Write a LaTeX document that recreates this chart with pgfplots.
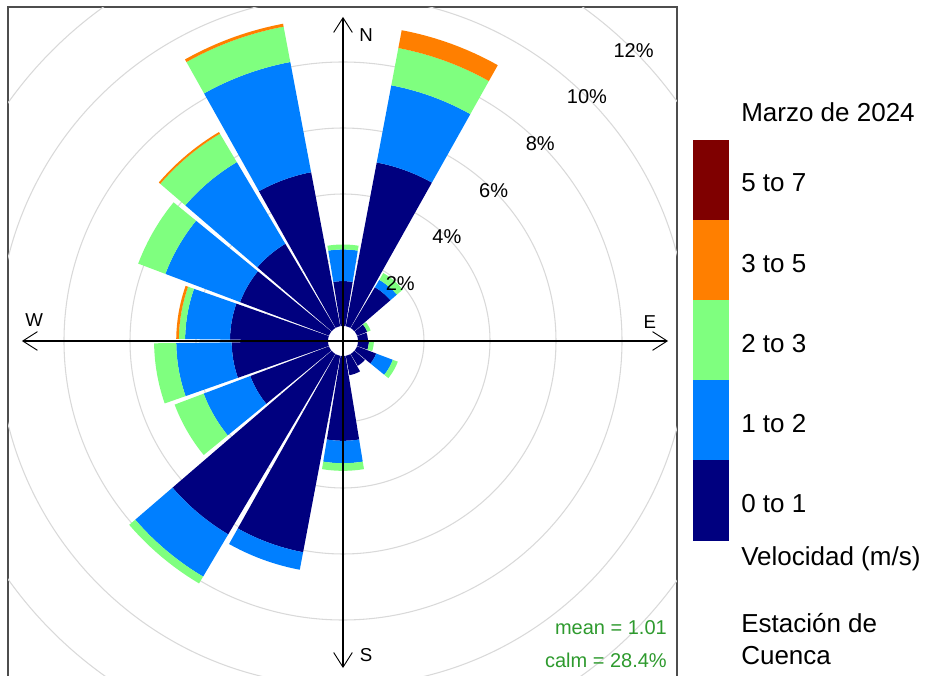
\documentclass[border=0pt]{standalone}
\usepackage{pgfplots}
\pgfplotsset{compat=1.18}
\usepackage{pgfplotstable}
\usepgfplotslibrary{polar}
\usetikzlibrary{arrows.meta}
\usepackage{fontspec}
\setmainfont{Liberation Sans}

\definecolor{ws1}{HTML}{00007F}
\definecolor{ws2}{HTML}{007FFF}
\definecolor{ws3}{HTML}{7FFF7F}
\definecolor{ws4}{HTML}{FF7F00}
\definecolor{ws5}{HTML}{7F0000}
\definecolor{gridgray}{HTML}{D9D9D9}
\definecolor{statgreen}{HTML}{2E9A2E}
\definecolor{framegray}{HTML}{4D4D4D}

% cumulative frequency (%) at the outer edge of each speed band, by direction (deg from N)
% c1: 0-1, c2: 1-2, c3: 2-3, c4: 3-5, c5: 5-7 m/s
\pgfplotstableread{
dir  c1    c2    c3    c4    c5
0    1.36  2.32  2.47  2.47  2.47
20   5.05  7.43  8.58  9.13  9.13
40   1.44  1.70  1.94  1.94  1.94
60   0.33  0.33  0.44  0.44  0.44
80   0.30  0.30  0.30  0.30  0.30
100  0.33  0.33  0.48  0.48  0.48
120  0.62  1.16  1.32  1.32  1.32
140  0.42  0.42  0.42  0.42  0.42
160  0.60  0.60  0.60  0.60  0.60
180  2.57  3.25  3.48  3.48  3.48
200  6.06  6.60  6.60  6.60  6.60
220  6.36  7.85  8.09  8.09  8.09
240  2.55  4.06  5.00  5.00  5.00
260  2.92  4.60  5.27  5.27  5.27
280  2.97  4.33  4.52  4.60  4.60
300  2.88  5.30  6.18  6.18  6.18
320  2.97  5.85  6.85  6.91  6.91
340  4.75  8.15  9.24  9.33  9.33
}\windtab

\newcommand\roff{0.4545}
\newcommand\halfw{9.3}

\newcommand{\wrsector}[4]{% dir, inner, outer, colour
  \pgfmathtruncatemacro\wrok{(#3-#2)>0.001}%
  \ifnum\wrok=1
    \pgfmathsetmacro\wrI{\roff+#2}%
    \pgfmathsetmacro\wrO{\roff+#3}%
    \gdef\wrpts{}%
    \foreach \k in {-6,...,6}{%
      \pgfmathsetmacro\wrang{90-#1+\k*\halfw/6}%
      \xdef\wrpts{\wrpts (\wrang,\wrO)}%
    }%
    \foreach \k in {6,5,...,-6}{%
      \pgfmathsetmacro\wrang{90-#1+\k*\halfw/6}%
      \xdef\wrpts{\wrpts (\wrang,\wrI)}%
    }%
    \edef\wrdoplot{\noexpand\addplot[fill=#4, draw=none, data cs=polar, forget plot] coordinates {\wrpts};}%
    \wrdoplot
  \fi
}

\begin{document}
\begin{tikzpicture}
\begin{axis}[
  x=24.75pt, y=24.75pt,
  xmin=-10.15, xmax=10.12, ymin=-10.3, ymax=10.12,
  xtick=\empty, ytick=\empty,
  axis line style={framegray, line width=1pt},
]
\pgfplotsinvokeforeach{2.4545,4.4545,6.4545,8.4545,10.4545,12.4545}{%
  \draw[gridgray, line width=0.8pt] (axis cs:0,0) circle[radius=#1];
}
\pgfplotstablegetrowsof{\windtab}
\pgfmathtruncatemacro\wrnrows{\pgfplotsretval-1}
\pgfplotsforeachungrouped \i in {0,...,\wrnrows}{%
  \pgfplotstablegetelem{\i}{dir}\of\windtab \edef\wrvdir{\pgfplotsretval}%
  \pgfplotstablegetelem{\i}{c1}\of\windtab \edef\wrva{\pgfplotsretval}%
  \pgfplotstablegetelem{\i}{c2}\of\windtab \edef\wrvb{\pgfplotsretval}%
  \pgfplotstablegetelem{\i}{c3}\of\windtab \edef\wrvc{\pgfplotsretval}%
  \pgfplotstablegetelem{\i}{c4}\of\windtab \edef\wrvd{\pgfplotsretval}%
  \pgfplotstablegetelem{\i}{c5}\of\windtab \edef\wrve{\pgfplotsretval}%
  \wrsector{\wrvdir}{0}{\wrva}{ws1}%
  \wrsector{\wrvdir}{\wrva}{\wrvb}{ws2}%
  \wrsector{\wrvdir}{\wrvb}{\wrvc}{ws3}%
  \wrsector{\wrvdir}{\wrvc}{\wrvd}{ws4}%
  \wrsector{\wrvdir}{\wrvd}{\wrve}{ws5}%
}
% compass axes
\draw[line width=1.1pt, {Straight Barb[length=11pt,width=14pt,line width=0.7pt]}-{Straight Barb[length=11pt,width=14pt,line width=0.7pt]}] (axis cs:-9.73,0) -- (axis cs:9.85,0);
\draw[line width=1.1pt, {Straight Barb[length=11pt,width=14pt,line width=0.7pt]}-{Straight Barb[length=11pt,width=14pt,line width=0.7pt]}] (axis cs:0,-9.91) -- (axis cs:0,9.82);
\node[font=\fontsize{14}{16}\selectfont] at (axis cs:0.70,9.27) {N};
\node[font=\fontsize{14}{16}\selectfont] at (axis cs:0.70,-9.52) {S};
\node[font=\fontsize{14}{16}\selectfont] at (axis cs:-9.36,0.64) {W};
\node[font=\fontsize{14}{16}\selectfont] at (axis cs:9.30,0.58) {E};
% radial labels at 45 degrees
\pgfplotsinvokeforeach{2,4,6,8,10,12}{%
  \node[font=\fontsize{15}{18}\selectfont, inner sep=0pt] at (axis cs:{(\roff+#1)*0.7071},{(\roff+#1)*0.7071}) {#1\%};
}
\node[anchor=east, inner sep=0pt, text=statgreen, font=\fontsize{15}{18}\selectfont] at (axis cs:9.82,-8.70) {mean = 1.01};
\node[anchor=east, inner sep=0pt, text=statgreen, font=\fontsize{15}{18}\selectfont] at (axis cs:9.82,-9.67) {calm = 28.4\%};
\coordinate (O) at (axis cs:0,0);
\end{axis}
\begin{scope}[shift={(O)}, x=0.75pt, y=-0.75pt, shift={(-343,-341)}]
  \fill[ws5] (693,140) rectangle (729,220);
  \fill[ws4] (693,220) rectangle (729,300);
  \fill[ws3] (693,300) rectangle (729,380);
  \fill[ws2] (693,380) rectangle (729,460);
  \fill[ws1] (693,460) rectangle (729,541);
  \begin{scope}[font=\fontsize{19.5}{23}\selectfont, inner sep=0pt]
    \node[anchor=base west] at (741,122) {Marzo de 2024};
    \node[anchor=base west] at (741,192) {5 to 7};
    \node[anchor=base west] at (741,273) {3 to 5};
    \node[anchor=base west] at (741,353) {2 to 3};
    \node[anchor=base west] at (741,433) {1 to 2};
    \node[anchor=base west] at (741,513) {0 to 1};
    \node[anchor=base west] at (741,566) {Velocidad (m/s)};
    \node[anchor=base west] at (741,633) {Estación de};
    \node[anchor=base west] at (741,664) {Cuenca};
  \end{scope}
  \coordinate (BL) at (0,675);
  \coordinate (TR) at (925,0);
\end{scope}
\pgfresetboundingbox
\path[use as bounding box] (BL) rectangle (TR);
\end{tikzpicture}
\end{document}
